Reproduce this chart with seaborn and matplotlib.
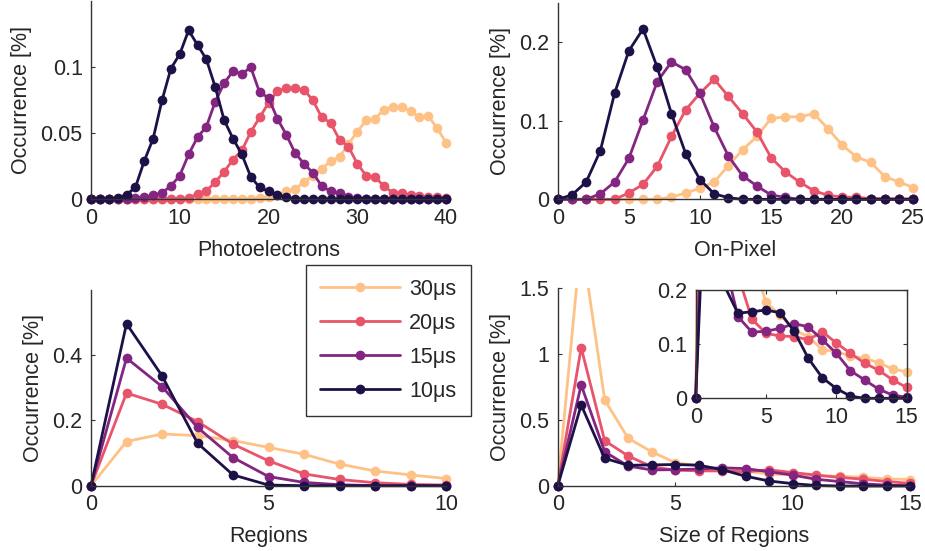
import matplotlib
matplotlib.use('Agg')
import numpy as np
import pandas as pd
import seaborn as sns
import matplotlib.pyplot as plt
from matplotlib.lines import Line2D
from matplotlib.ticker import FuncFormatter
from matplotlib.transforms import Bbox, TransformedBbox

sns.set_style('white')
plt.rcParams['font.family'] = ['Liberation Sans', 'DejaVu Sans']
plt.rcParams['font.size'] = 15.5

series = ['30μs', '20μs', '15μs', '10μs']
colors = ['#FEC287', '#E8546A', '#842681', '#1E1148']

# Photoelectrons (0..40)
pe_x = list(range(41))
pe_30 = [0, 0, 0, 0, 0, 0, 0, 0, 0, 0, 0, 0, 0, 0, 0, 0, 0, 0, 0, 0.001, 0.0015,
         0.003, 0.006, 0.008, 0.013, 0.018, 0.023, 0.029, 0.032, 0.042, 0.051,
         0.060, 0.061, 0.068, 0.070, 0.070, 0.067, 0.062, 0.063, 0.054, 0.043]
pe_20 = [0, 0, 0, 0, 0, 0, 0, 0, 0, 0, 0, 0.001, 0.004, 0.0065, 0.013, 0.021,
         0.030, 0.037, 0.051, 0.062, 0.073, 0.082, 0.084, 0.084, 0.083, 0.075,
         0.062, 0.058, 0.045, 0.040, 0.027, 0.018, 0.017, 0.010, 0.005, 0.005,
         0.003, 0.0025, 0.002, 0.0015, 0.001]
pe_15 = [0, 0, 0, 0, 0, 0.001, 0.0015, 0.003, 0.005, 0.010, 0.018, 0.034, 0.047,
         0.055, 0.074, 0.088, 0.097, 0.095, 0.100, 0.081, 0.077, 0.061, 0.049,
         0.035, 0.027, 0.020, 0.010, 0.006, 0.0045, 0.002, 0.001,
         0, 0, 0, 0, 0, 0, 0, 0, 0, 0]
pe_10 = [0, 0, 0, 0.001, 0.0035, 0.009, 0.029, 0.046, 0.075, 0.099, 0.110, 0.128,
         0.117, 0.106, 0.085, 0.060, 0.046, 0.034, 0.017, 0.009, 0.006, 0.003,
         0.002, 0, 0, 0, 0, 0, 0, 0, 0, 0, 0, 0, 0, 0, 0, 0, 0, 0, 0]

# On-Pixel (0..25)
op_x = list(range(26))
op_30 = [0, 0, 0, 0, 0, 0, 0, 0, 0.003, 0.008, 0.014, 0.022, 0.043, 0.063, 0.080,
         0.103, 0.105, 0.105, 0.109, 0.090, 0.069, 0.054, 0.047, 0.029, 0.022, 0.015]
op_20 = [0, 0, 0, 0, 0, 0.008, 0.019, 0.042, 0.080, 0.114, 0.135, 0.153, 0.131,
         0.109, 0.086, 0.053, 0.035, 0.022, 0.011, 0.005, 0.003, 0.0025, 0.001,
         0.001, 0.0005, 0.0005]
op_15 = [0, 0, 0, 0.007, 0.022, 0.052, 0.101, 0.150, 0.175, 0.165, 0.135, 0.092,
         0.055, 0.030, 0.017, 0.0055, 0.0025, 0, 0, 0, 0, 0, 0, 0, 0, 0]
op_10 = [0, 0.0055, 0.022, 0.062, 0.135, 0.189, 0.217, 0.168, 0.109, 0.058, 0.025,
         0.007, 0.002, 0, 0, 0, 0, 0, 0, 0, 0, 0, 0, 0, 0, 0]

# Regions (0..10)
rg_x = list(range(11))
rg_30 = [0, 0.135, 0.158, 0.153, 0.138, 0.117, 0.096, 0.066, 0.045, 0.033, 0.022]
rg_20 = [0, 0.283, 0.249, 0.196, 0.127, 0.076, 0.036, 0.019, 0.009, 0.004, 0.002]
rg_15 = [0, 0.390, 0.303, 0.178, 0.086, 0.028, 0.010, 0.003, 0, 0, 0]
rg_10 = [0, 0.495, 0.336, 0.130, 0.033, 0.002, 0, 0, 0, 0, 0]

# Size of regions (0..15)
sz_x = list(range(16))
sz_30 = [0, 1.88, 0.653, 0.362, 0.26, 0.177, 0.154, 0.126, 0.114, 0.090, 0.086,
         0.078, 0.074, 0.066, 0.054, 0.049]
sz_20 = [0, 1.05, 0.344, 0.228, 0.146, 0.120, 0.115, 0.114, 0.108, 0.123, 0.102,
         0.083, 0.065, 0.052, 0.034, 0.020]
sz_15 = [0, 0.767, 0.26, 0.151, 0.122, 0.124, 0.129, 0.138, 0.132, 0.108, 0.083,
         0.051, 0.034, 0.017, 0.006, 0.002]
sz_10 = [0, 0.615, 0.21, 0.157, 0.160, 0.163, 0.158, 0.124, 0.074, 0.038, 0.018,
         0.004, 0, 0, 0, 0]


def long_df(x, ys):
    frames = []
    for name, y in zip(series, ys):
        frames.append(pd.DataFrame({'x': x, 'v': y, 's': name}))
    return pd.concat(frames, ignore_index=True)


W, H = 925, 551
fig = plt.figure(figsize=(W / 100, H / 100), dpi=100)


def px_axes(x0, x1, ytop, ybot):
    return fig.add_axes([x0 / W, 1 - ybot / H, (x1 - x0) / W, (ybot - ytop) / H])


fmt = FuncFormatter(lambda v, p: f'{v:g}')
spine_col = '#333333'
MS = 7.0
LW = 2.0


def draw(ax, x, ys, xlim, ylim, xticks, yticks, xlabel=None, ylabel=None,
         box=False):
    df = long_df(x, ys)
    sns.lineplot(data=df, x='x', y='v', hue='s', hue_order=series,
                 palette=colors, marker='o', markersize=MS, markeredgewidth=0,
                 linewidth=LW, ax=ax, legend=False, sort=False,
                 estimator=None, clip_on=False)
    ax.set_xlim(*xlim)
    ax.set_ylim(*ylim)
    ax.set_xticks(xticks)
    ax.set_yticks(yticks)
    ax.xaxis.set_major_formatter(fmt)
    ax.yaxis.set_major_formatter(fmt)
    ax.set_xlabel(xlabel if xlabel else '', labelpad=8)
    ax.set_ylabel(ylabel if ylabel else '', labelpad=6)
    for side in ['top', 'right']:
        ax.spines[side].set_visible(box)
    for sp in ax.spines.values():
        sp.set_color(spine_col)
        sp.set_linewidth(1.0)
    ax.tick_params(direction='in', length=3, width=0.8, color=spine_col,
                   pad=6, labelsize=15.5, top=box, right=box,
                   left=True, bottom=True)
    ax.set_facecolor('none')


def clip_top(ax):
    bb = TransformedBbox(Bbox([[-0.1, -0.2], [1.1, 1.0]]), ax.transAxes)
    for ln in ax.lines:
        ln.set_clip_on(True)
        ln.set_clip_box(bb)


ax1 = px_axes(91, 446, 1.3, 199.3)
draw(ax1, pe_x, [pe_30, pe_20, pe_15, pe_10], (0, 40), (0, 0.15),
     [0, 10, 20, 30, 40], [0, 0.05, 0.1], 'Photoelectrons', 'Occurrence [%]')

ax2 = px_axes(557.7, 913.3, 3.0, 199.3)
draw(ax2, op_x, [op_30, op_20, op_15, op_10], (0, 25), (0, 0.25),
     [0, 5, 10, 15, 20, 25], [0, 0.1, 0.2], 'On-Pixel', 'Occurrence [%]')

ax3 = px_axes(91, 446, 290, 485.7)
draw(ax3, rg_x, [rg_30, rg_20, rg_15, rg_10], (0, 10), (0, 0.598),
     [0, 5, 10], [0, 0.2, 0.4], 'Regions', 'Occurrence [%]')

ax4 = px_axes(557.7, 910, 288.3, 486)
draw(ax4, sz_x, [sz_30, sz_20, sz_15, sz_10], (0, 15), (0, 1.5),
     [0, 5, 10, 15], [0, 0.5, 1, 1.5], 'Size of Regions', 'Occurrence [%]')
clip_top(ax4)

ax5 = px_axes(695.7, 906.7, 290, 398.3)
draw(ax5, sz_x, [sz_30, sz_20, sz_15, sz_10], (0, 15), (0, 0.2),
     [0, 5, 10, 15], [0, 0.1, 0.2], box=True)
ax5.set_facecolor('white')
clip_top(ax5)

handles = [Line2D([0], [0], color=c, marker='o', markersize=MS,
                  markeredgewidth=0, linewidth=LW) for c in colors]
leg = fig.legend(handles, series, loc='upper left',
                 bbox_to_anchor=(306 / W, 1 - 265 / H), fontsize=15.5,
                 handlelength=3.7, handletextpad=0.45, labelspacing=0.6,
                 borderpad=0.65, borderaxespad=0, fancybox=False,
                 framealpha=1, edgecolor='#333333')
leg.get_frame().set_linewidth(1.0)

fig.savefig('out.png', dpi=100)
